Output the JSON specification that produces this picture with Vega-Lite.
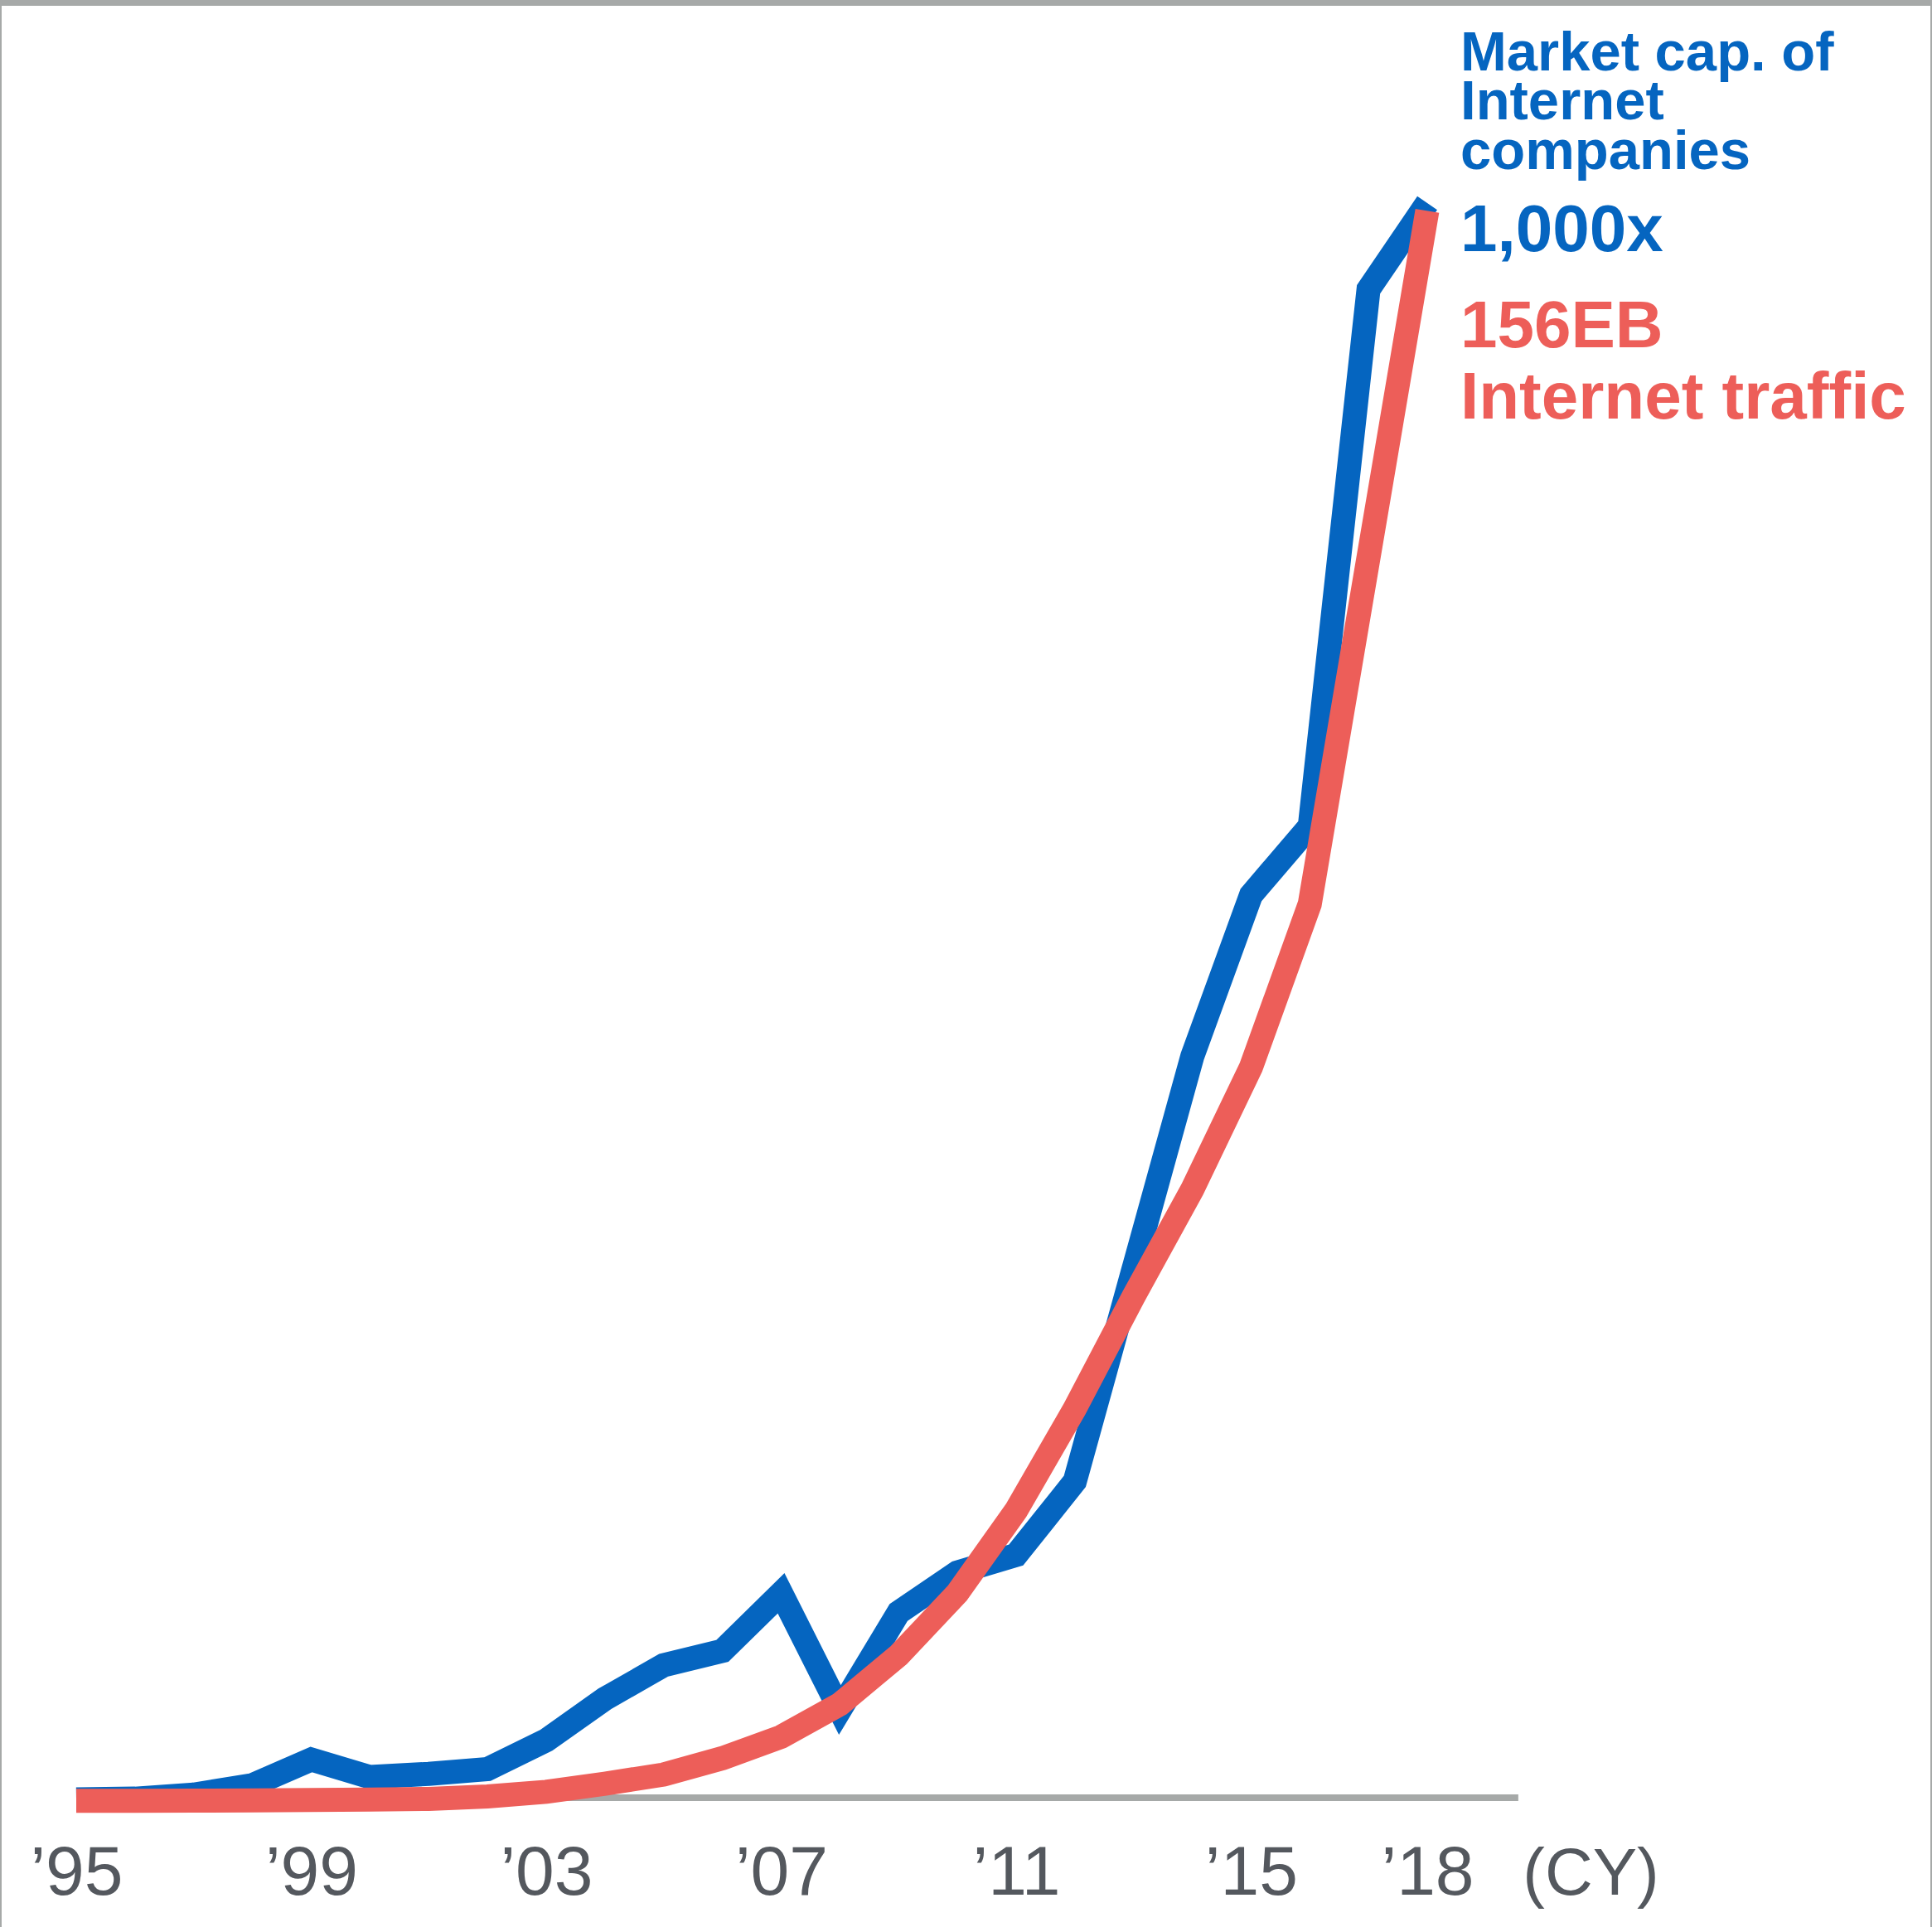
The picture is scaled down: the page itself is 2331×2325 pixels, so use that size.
{
  "$schema": "https://vega.github.io/schema/vega-lite/v6.json",
  "width": 2331,
  "height": 2325,
  "padding": 0,
  "autosize": {"type": "none"},
  "background": "white",
  "config": {"view": {"stroke": null}, "font": "Liberation Sans"},
  "datasets": {
    "series": [
      {"year": 1995, "market_cap_index": 1, "traffic_eb": 0.01},
      {"year": 1996, "market_cap_index": 1.5, "traffic_eb": 0.02},
      {"year": 1997, "market_cap_index": 4, "traffic_eb": 0.04},
      {"year": 1998, "market_cap_index": 10, "traffic_eb": 0.06},
      {"year": 1999, "market_cap_index": 26, "traffic_eb": 0.1},
      {"year": 2000, "market_cap_index": 15, "traffic_eb": 0.15},
      {"year": 2001, "market_cap_index": 17, "traffic_eb": 0.21},
      {"year": 2002, "market_cap_index": 20, "traffic_eb": 0.45},
      {"year": 2003, "market_cap_index": 38, "traffic_eb": 0.9},
      {"year": 2004, "market_cap_index": 64, "traffic_eb": 1.7},
      {"year": 2005, "market_cap_index": 85, "traffic_eb": 2.6},
      {"year": 2006, "market_cap_index": 94, "traffic_eb": 4.2},
      {"year": 2007, "market_cap_index": 130, "traffic_eb": 6.3},
      {"year": 2008, "market_cap_index": 57, "traffic_eb": 9.5},
      {"year": 2009, "market_cap_index": 118, "traffic_eb": 14.3},
      {"year": 2010, "market_cap_index": 143, "traffic_eb": 20.4},
      {"year": 2011, "market_cap_index": 154, "traffic_eb": 28.5},
      {"year": 2012, "market_cap_index": 200, "traffic_eb": 38.5},
      {"year": 2013, "market_cap_index": 333, "traffic_eb": 49.5},
      {"year": 2014, "market_cap_index": 466, "traffic_eb": 60},
      {"year": 2015, "market_cap_index": 567, "traffic_eb": 72},
      {"year": 2016, "market_cap_index": 610, "traffic_eb": 88},
      {"year": 2017, "market_cap_index": 946, "traffic_eb": 122},
      {"year": 2018, "market_cap_index": 1000, "traffic_eb": 156}
    ]
  },
  "data": {"name": "series"},
  "layer": [
    {
      "data": {"values": [{}]},
      "mark": {"type": "rule", "color": "#a6a9a8", "strokeWidth": 14},
      "encoding": {"y": {"datum": 1127.07, "scale": {"domain": [-78.84, 1127.07], "nice": false, "zero": false}, "axis": null}}
    },
    {
      "data": {"values": [{}]},
      "mark": {"type": "rule", "color": "#a6a9a8", "strokeWidth": 4},
      "encoding": {"x": {"datum": 1993.7018}}
    },
    {
      "data": {"values": [{}]},
      "mark": {"type": "rule", "color": "#a6a9a8", "strokeWidth": 4},
      "encoding": {"x": {"datum": 2026.593}}
    },
    {
      "data": {"values": [{}]},
      "mark": {"type": "rule", "color": "#a6a9a8", "strokeWidth": 8},
      "encoding": {
        "x": {"datum": 1995},
        "x2": {"datum": 2019.55},
        "y": {"datum": 2.07, "scale": {"domain": [-78.84, 1127.07], "nice": false, "zero": false}, "axis": null}
      }
    },
    {
      "mark": {"type": "line", "color": "#0565c0", "strokeWidth": 29, "strokeJoin": "miter", "strokeCap": "butt"},
      "encoding": {
        "x": {
          "field": "year",
          "type": "quantitative",
          "scale": {"domain": [1993.7018, 2026.593], "nice": false, "zero": false},
          "axis": {
            "values": [1995, 1999, 2003, 2007, 2011, 2015, 2018],
            "labelExpr": "'\u2019' + substring(toString(datum.value), 2)",
            "domain": false,
            "ticks": false,
            "tickSize": 0,
            "grid": false,
            "labelFont": "Liberation Sans",
            "labelFontSize": 84,
            "labelColor": "#54585e",
            "labelBaseline": "alphabetic",
            "labelAlign": "center",
            "labelPadding": -40,
            "labelOverlap": false,
            "labelFlush": false,
            "title": "(CY)",
            "titleFont": "Liberation Sans",
            "titleFontSize": 80,
            "titleFontWeight": "normal",
            "titleColor": "#54585e",
            "titleX": 1919,
            "titleY": -40,
            "titleBaseline": "alphabetic",
            "titleAlign": "center"
          }
        },
        "y": {
          "field": "market_cap_index",
          "type": "quantitative",
          "scale": {"domain": [-78.84, 1127.07], "nice": false, "zero": false},
          "axis": null
        }
      }
    },
    {
      "mark": {"type": "line", "color": "#ed5e59", "strokeWidth": 29, "strokeJoin": "miter", "strokeCap": "butt"},
      "encoding": {
        "x": {"field": "year", "type": "quantitative"},
        "y": {
          "field": "traffic_eb",
          "type": "quantitative",
          "scale": {"domain": [-12.359, 176.68], "nice": false, "zero": false},
          "axis": null
        }
      }
    },
    {
      "data": {"values": [{}]},
      "mark": {"type": "text", "text": "Market cap. of", "font": "Liberation Sans", "fontWeight": "bold", "fontSize": 67, "color": "#0565c0", "align": "left", "baseline": "alphabetic", "dx": 40, "dy": -160},
      "encoding": {"x": {"datum": 2018}, "y": {"datum": 1000, "scale": {"domain": [-78.84, 1127.07], "nice": false, "zero": false}, "axis": null}}
    },
    {
      "data": {"values": [{}]},
      "mark": {"type": "text", "text": "Internet", "font": "Liberation Sans", "fontWeight": "bold", "fontSize": 67, "color": "#0565c0", "align": "left", "baseline": "alphabetic", "dx": 40, "dy": -101},
      "encoding": {"x": {"datum": 2018}, "y": {"datum": 1000, "scale": {"domain": [-78.84, 1127.07], "nice": false, "zero": false}, "axis": null}}
    },
    {
      "data": {"values": [{}]},
      "mark": {"type": "text", "text": "companies", "font": "Liberation Sans", "fontWeight": "bold", "fontSize": 67, "color": "#0565c0", "align": "left", "baseline": "alphabetic", "dx": 40, "dy": -41},
      "encoding": {"x": {"datum": 2018}, "y": {"datum": 1000, "scale": {"domain": [-78.84, 1127.07], "nice": false, "zero": false}, "axis": null}}
    },
    {
      "data": {"values": [{}]},
      "mark": {"type": "text", "text": "1,000x", "font": "Liberation Sans", "fontWeight": "bold", "fontSize": 80, "color": "#0565c0", "align": "left", "baseline": "alphabetic", "dx": 40, "dy": 58},
      "encoding": {"x": {"datum": 2018}, "y": {"datum": 1000, "scale": {"domain": [-78.84, 1127.07], "nice": false, "zero": false}, "axis": null}}
    },
    {
      "data": {"values": [{}]},
      "mark": {"type": "text", "text": "156EB", "font": "Liberation Sans", "fontWeight": "bold", "fontSize": 80, "color": "#ed5e59", "align": "left", "baseline": "alphabetic", "dx": 40, "dy": 174},
      "encoding": {"x": {"datum": 2018}, "y": {"datum": 1000, "scale": {"domain": [-78.84, 1127.07], "nice": false, "zero": false}, "axis": null}}
    },
    {
      "data": {"values": [{}]},
      "mark": {"type": "text", "text": "Internet traffic", "font": "Liberation Sans", "fontWeight": "bold", "fontSize": 80, "color": "#ed5e59", "align": "left", "baseline": "alphabetic", "dx": 40, "dy": 260},
      "encoding": {"x": {"datum": 2018}, "y": {"datum": 1000, "scale": {"domain": [-78.84, 1127.07], "nice": false, "zero": false}, "axis": null}}
    }
  ],
  "resolve": {"scale": {"y": "independent"}}
}
